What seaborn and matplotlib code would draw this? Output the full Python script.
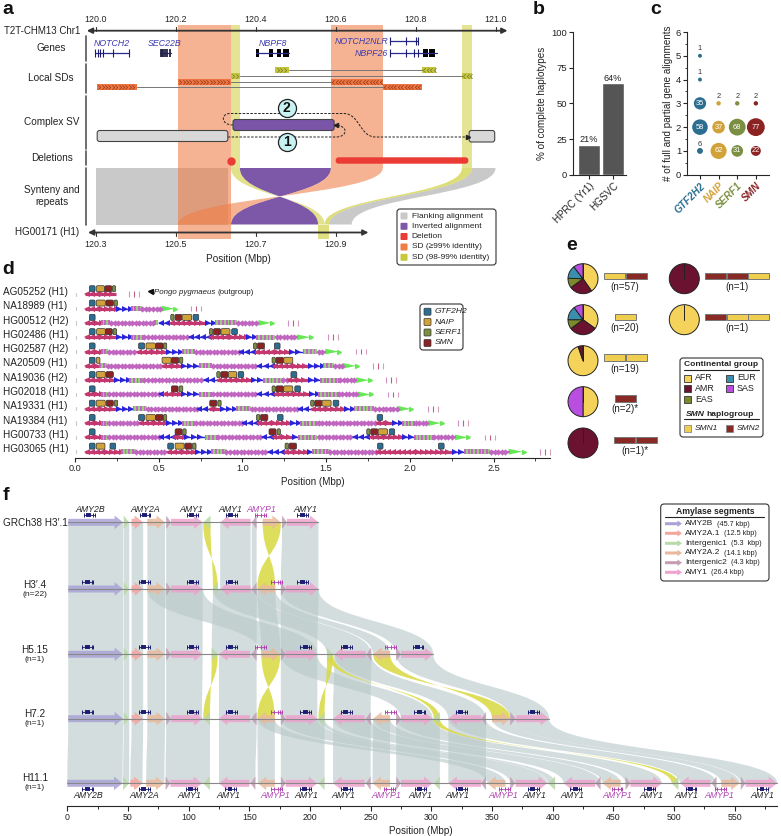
import numpy as np
import pandas as pd
import matplotlib
matplotlib.use("Agg")
import matplotlib.pyplot as plt
import seaborn as sns
from matplotlib.patches import FancyBboxPatch, PathPatch, Rectangle
from matplotlib.path import Path
from matplotlib.ticker import MultipleLocator

# panel a: Mbp values
top_ticks = [120.0, 120.2, 120.4, 120.6, 120.8, 121.0]
bottom_ticks = [120.3, 120.5, 120.7, 120.9]
a_genes = [
    ("NOTCH2", 119.997, 120.082, [119.997, 120.004, 120.01, 120.018, 120.042, 120.082], [], 53),
    ("SEC22B", 120.16, 120.187, [120.162, 120.164, 120.168, 120.173, 120.177, 120.185], [], 53),
    ("NBPF8", 120.40, 120.484, [], [(120.40, 120.407), (120.432, 120.442), (120.454, 120.462), (120.469, 120.484)], 53),
    ("NOTCH2NLR", 120.737, 120.807, [120.737, 120.775, 120.8, 120.807], [], 41),
    ("NBPF26", 120.737, 120.853, [120.737, 120.775, 120.797, 120.807], [(120.818, 120.832), (120.834, 120.849)], 53),
]
a_sd = [
    (120.449, 120.482, 120.816, 120.851, 70, "#c4c43c"),
    (120.338, 120.36, 120.916, 120.941, 76, "#c4c43c"),
    (120.205, 120.338, 120.588, 120.718, 81.5, "#ee7340"),
    (120.002, 120.103, 120.718, 120.815, 87, "#ee7340"),
]
orange_bands = [(120.205, 120.338), (120.588, 120.718)]
yellow_bands = [(120.338, 120.36), (120.916, 120.941)]
flank_left = (120.0, 120.33)
inv_span = (120.36, 120.588)
flank_right = (120.941, 121.0)

# panel b
cohorts = ["HPRC (Yr1)", "HGSVC"]
complete_pct = [21, 64]

# panel c
c_gene = ["GTF2H2"] * 5 + ["NAIP"] * 3 + ["SERF1"] * 3 + ["SMN"] * 3
c_copies = [5, 4, 3, 2, 1, 3, 2, 1, 3, 2, 1, 3, 2, 1]
c_count = [1, 1, 35, 58, 6, 2, 37, 62, 2, 68, 31, 2, 77, 22]
gene_order = ["GTF2H2", "NAIP", "SERF1", "SMN"]
gene_colors = ["#2c6e91", "#d2a23a", "#7b8f42", "#8b2323"]

# panel d
samples = ["AG05252 (H1)", "NA18989 (H1)", "HG00512 (H2)", "HG02486 (H1)", "HG02587 (H2)", "NA20509 (H1)",
           "NA19036 (H2)", "HG02018 (H1)", "NA19331 (H1)", "NA19384 (H1)", "HG00733 (H1)", "HG03065 (H1)"]
tracks = [
    [("C", .243)],
    [("C", .253), ("B", .339), ("S", .398), ("M", .518), ("E", .609)],
    [("C", .16), ("S", .21), ("M", .48), ("S", .5), ("B", .57), ("C", .78), ("B", .84), ("S", .97), ("M", 1.096), ("E", 1.185)],
    [("C", .248), ("B", .339), ("S", .41), ("M", .68), ("B", .805), ("C", 1.03), ("B", 1.09), ("S", 1.2), ("M", 1.325), ("E", 1.42)],
    [("C", .16), ("S", .2), ("M", .37), ("C", .547), ("B", .645), ("S", .72), ("M", .98), ("B", 1.077), ("C", 1.285), ("B", 1.365), ("S", 1.45), ("M", 1.495), ("E", 1.59)],
    [("C", .15), ("S", .19), ("M", .52), ("C", .638), ("B", .747), ("S", .82), ("M", 1.09), ("B", 1.185), ("C", 1.395), ("B", 1.485), ("S", 1.55), ("M", 1.6), ("E", 1.693)],
    [("C", .24), ("B", .33), ("S", .41), ("M", .77), ("B", .85), ("C", 1.06), ("B", 1.13), ("S", 1.24), ("M", 1.27), ("C", 1.395), ("B", 1.47), ("S", 1.58), ("M", 1.68), ("E", 1.77)],
    [("C", .16), ("S", .2), ("M", .5), ("B", .53), ("C", .64), ("B", .747), ("S", .82), ("M", 1.09), ("B", 1.19), ("C", 1.405), ("B", 1.46), ("S", 1.57), ("M", 1.69), ("E", 1.78)],
    [("C", .25), ("B", .35), ("S", .43), ("M", .73), ("B", .8), ("C", .87), ("B", .97), ("S", 1.05), ("M", 1.33), ("B", 1.41), ("C", 1.61), ("B", 1.67), ("S", 1.79), ("M", 1.93), ("E", 2.02)],
    [("C", .16), ("S", .2), ("M", .385), ("C", .547), ("B", .645), ("S", .72), ("M", 1.0), ("B", 1.09), ("C", 1.29), ("B", 1.35), ("S", 1.45), ("M", 1.8), ("C", 1.9), ("B", 1.96), ("S", 2.03), ("M", 2.11), ("E", 2.2)],
    [("C", .16), ("S", .2), ("M", .5), ("B", .59), ("C", .66), ("B", .78), ("S", .85), ("M", 1.12), ("B", 1.18), ("C", 1.3), ("B", 1.34), ("S", 1.45), ("M", 1.66), ("B", 1.76), ("C", 1.96), ("B", 2.03), ("S", 2.14), ("M", 2.27), ("E", 2.36)],
    [("C", .28), ("S", .36), ("M", .55), ("C", .72), ("B", .82), ("S", .9), ("M", 1.15), ("B", 1.25), ("C", 1.39), ("B", 1.42), ("S", 1.52), ("M", 1.8), ("C", 2.26), ("B", 2.33), ("S", 2.48), ("M", 2.59), ("E", 2.69)],
]
outgroup_start = [.325, .695, 1.27, 1.51, 1.68, 1.78, 1.86, 1.87, 2.11, 2.29, 2.45, 2.78]
d_markers = [
    [("G", .086, .12), ("N", .127, .177), ("S", .179, .22), ("F", .223, .243)],
    [("G", .086, .12), ("N", .127, .181), ("S", .185, .229), ("F", .233, .253)],
    [("G", .086, .12), ("F", .572, .592), ("S", .598, .638), ("N", .64, .697), ("G", .705, .739)],
    [("G", .086, .12), ("N", .129, .181), ("S", .181, .223), ("F", .227, .249), ("F", .803, .823), ("S", .827, .87), ("N", .872, .926), ("G", .936, .97)],
    [("G", .086, .12), ("G", .38, .416), ("N", .424, .48), ("S", .482, .526), ("F", .528, .548), ("F", 1.066, 1.086), ("S", 1.09, 1.132), ("G", 1.191, 1.225)],
    [("G", .086, .12), ("N", .127, .149), ("N", .52, .574), ("S", .576, .62), ("F", .624, .644), ("F", 1.177, 1.197), ("S", 1.201, 1.245), ("N", 1.247, 1.301)],
    [("G", .086, .12), ("N", .127, .181), ("S", .185, .229), ("F", .847, .867), ("S", .871, .914), ("N", .916, .966), ("G", .974, 1.008), ("G", 1.29, 1.325)],
    [("G", .086, .12), ("S", .576, .616), ("F", .622, .644), ("F", 1.177, 1.197), ("S", 1.201, 1.245), ("N", 1.247, 1.301), ("G", 1.313, 1.347)],
    [("G", .086, .12), ("N", .127, .181), ("S", .187, .229), ("F", .235, .255), ("S", .805, .847), ("F", .853, .873), ("F", 1.408, 1.428), ("S", 1.432, 1.474), ("N", 1.476, 1.53), ("G", 1.542, 1.576)],
    [("G", .086, .12), ("G", .38, .416), ("N", .424, .48), ("S", .482, .526), ("F", .528, .548), ("F", 1.084, 1.104), ("S", 1.108, 1.152), ("G", 1.209, 1.243), ("G", 1.805, 1.838)],
    [("G", .086, .12), ("S", .598, .64), ("F", .644, .664), ("S", 1.159, 1.201), ("F", 1.207, 1.227), ("F", 1.743, 1.763), ("S", 1.767, 1.809), ("N", 1.811, 1.867), ("G", 1.877, 1.91)],
    [("G", .086, .12), ("N", .127, .179), ("G", .209, .243), ("G", .554, .588), ("N", .598, .652), ("S", .656, .697), ("F", .701, .723), ("F", 1.255, 1.275), ("S", 1.279, 1.323), ("G", 1.807, 1.84), ("G", 2.171, 2.205)],
]

# panel e
pop_names = ["AFR", "AMR", "EAS", "EUR", "SAS"]
pop_colors = ["#f5d35a", "#6b1230", "#7d8a2c", "#3b8fae", "#b84fe0"]
pie_counts = [[23, 14, 6, 8, 6], [7, 6, 2, 3, 2], [18, 1, 0, 0, 0], [1, 0, 0, 0, 1], [0, 1, 0, 0, 0],
              [0, 1, 0, 0, 0], [1, 0, 0, 0, 0]]
pie_labels = ["(n=57)", "(n=20)", "(n=19)", "(n=2)*", "(n=1)*", "(n=1)", "(n=1)"]
haplotypes = [[1, 2], [1], [1, 1], [2], [2, 2], [2, 2, 1], [2, 1, 1]]

# panel f: segment name, start, end, direction
seg_colors = {"AMY2B": "#a9a3d6", "AMY2A.1": "#f4a5a0", "Intergenic1": "#b9d9a6",
              "AMY2A.2": "#eab99c", "Intergenic2": "#c49db5", "AMY1": "#eea2cd"}
seg_sizes = ["(45.7 kbp)", "(12.5 kbp)", "(5.3  kbp)", "(14.1 kbp)", "(4.3 kbp)", "(26.4 kbp)"]
h_first = [("AMY2B", .8, 46, 1), ("Intergenic1", 46.5, 51, 1), ("AMY2A.1", 53, 62.5, 1), ("AMY2A.2", 66, 80.5, 1),
           ("Intergenic2", 81.5, 85.5, 1), ("AMY1", 85.5, 111.5, 1)]
row_h31 = h_first + [("Intergenic1", 112, 118, -1), ("AMY1", 126, 151, -1), ("Intergenic2", 152, 156, -1),
                     ("AMY2A.2", 161, 176, 1), ("Intergenic2", 177, 181, 1), ("AMY1", 181, 207, 1)]
row_h34 = h_first + [("Intergenic1", 120, 124, -1), ("AMY1", 126, 151, -1), ("Intergenic2", 152, 156, -1),
                     ("AMY2A.2", 156.6, 171.4, -1), ("Intergenic2", 176, 180, 1), ("AMY1", 180, 207, 1)]
row_h515 = h_first + [("Intergenic1", 119, 124, 1), ("AMY1", 125, 150.5, -1), ("Intergenic2", 151.5, 156, -1),
                      ("AMY2A.2", 160, 175.5, 1), ("Intergenic2", 176, 180, 1), ("AMY1", 180, 206, 1),
                      ("Intergenic1", 214, 219, 1), ("AMY1", 220, 246, -1), ("Intergenic2", 246.5, 250.5, -1),
                      ("AMY2A.2", 252, 266, -1), ("Intergenic2", 271, 275, 1), ("AMY1", 275, 301.6, 1)]
row_h72 = h_first + [("Intergenic1", 112, 117.6, -1), ("AMY1", 125, 150.5, -1), ("Intergenic2", 151.5, 156, -1),
                     ("AMY2A.2", 156.6, 171, -1), ("Intergenic2", 176, 180, 1), ("AMY1", 180, 206, 1),
                     ("Intergenic1", 207, 212, -1), ("AMY1", 219, 245, -1), ("Intergenic2", 246, 250, -1),
                     ("AMY2A.2", 252, 266, -1), ("Intergenic2", 271, 275, 1), ("AMY1", 275, 301, 1),
                     ("Intergenic1", 301.6, 307, -1), ("AMY1", 314, 341, -1), ("Intergenic2", 341, 345, -1),
                     ("AMY2A.2", 350, 365, 1), ("Intergenic2", 365, 369.5, 1), ("AMY1", 370, 397, 1)]
row_h111 = [("AMY2B", 0, 45.5, 1), ("Intergenic1", 46, 51, 1), ("AMY2A.1", 52, 62, 1), ("AMY2A.2", 65, 80, 1),
            ("Intergenic2", 81, 85, 1), ("AMY1", 85, 111, 1), ("Intergenic1", 112, 117.5, -1), ("AMY1", 125, 150, -1),
            ("Intergenic2", 151, 155, -1), ("AMY2A.2", 157, 171, -1), ("Intergenic2", 176, 180, 1), ("AMY1", 180, 206, 1),
            ("Intergenic1", 207, 212, -1), ("AMY1", 219, 245, -1), ("Intergenic2", 246, 250, -1), ("AMY2A.2", 251.5, 266, -1),
            ("Intergenic2", 271, 275, 1), ("AMY1", 275, 301, 1), ("Intergenic1", 302, 307, -1), ("AMY1", 314, 341, -1),
            ("Intergenic2", 341, 345, -1), ("AMY2A.2", 346, 361, -1), ("Intergenic2", 365, 369, 1), ("AMY1", 369.5, 395.5, 1),
            ("Intergenic1", 396, 402, -1), ("AMY1", 409, 435, -1), ("Intergenic2", 435, 439.5, -1), ("AMY2A.2", 441, 456, -1),
            ("Intergenic2", 460, 464, 1), ("AMY1", 464, 490, 1), ("Intergenic1", 498, 503.6, -1), ("AMY1", 505, 530, -1),
            ("Intergenic2", 531, 535, -1), ("AMY2A.2", 539, 554, 1), ("Intergenic2", 555, 559, 1), ("AMY1", 559, 585, 1)]
f_rows = [row_h31, row_h34, row_h515, row_h72, row_h111]

# alignments between neighbouring haplotypes: top start, top end, bottom start, bottom end, inverted
align_01 = [(.8, 46, .8, 46, 0), (46.5, 51, 46.5, 51, 0), (53, 62.5, 53, 62.5, 0), (66, 80.5, 66, 80.5, 0), (81.5, 111.5, 81.5, 111.5, 0),
            (112, 118, 120, 124, 1), (126, 151, 126, 151, 0), (152, 156, 152, 156, 0), (161, 176, 156.6, 171.4, 1), (177, 207, 176, 207, 0)]
align_12 = [(.8, 46, .8, 46, 0), (46.5, 51, 46.5, 51, 0), (53, 62.5, 53, 62.5, 0), (66, 80.5, 66, 80.5, 0), (81.5, 111.5, 81.5, 111.5, 0),
            (120, 156, 119, 156, 0), (156.6, 171.4, 160, 175.5, 0), (176, 207, 176, 206, 0),
            (66, 112, 160, 206, 0), (120, 156, 214, 250.5, 0), (156.6, 171.4, 252, 266, 0), (176, 207, 271, 301.6, 0)]
align_23 = [(.8, 46, .8, 46, 0), (46.5, 51, 46.5, 51, 0), (53, 62.5, 53, 62.5, 0), (66, 80.5, 66, 80.5, 0), (81.5, 111.5, 81.5, 111, 0),
            (119, 124, 112, 117.6, 1), (125, 156, 125, 156, 0), (160, 175.5, 156.6, 171, 1), (176, 206, 176, 206, 0),
            (214, 219, 207, 212, 1), (220, 250.5, 219, 250, 0),
            (176, 206, 275, 301, 0), (214, 219, 302, 307, 1), (220, 250.5, 314, 345, 0), (252, 266, 350, 365, 1), (271, 301.6, 365, 397, 0)]
align_34 = [(.8, 46, 0, 45.5, 0), (46.5, 51, 46, 51, 0), (53, 62.5, 52, 62, 0), (66, 80.5, 65, 80, 0), (81.5, 117.6, 81, 117.5, 0),
            (125, 156, 125, 155, 0), (156.6, 171, 157, 171, 0), (176, 212, 176, 212, 0), (219, 250, 219, 250, 0), (252, 266, 251.5, 266, 0),
            (271, 307, 271, 307, 0), (314, 345, 314, 345, 0),
            (156.6, 171, 346, 361, 0), (176, 206, 365, 395.5, 0), (207, 212, 396, 402, 0), (219, 250, 409, 439.5, 0), (252, 266, 441, 456, 0),
            (271, 301, 460, 490, 0), (301.6, 307, 498, 503.6, 1), (314, 345, 505, 535, 0), (350, 365, 539, 554, 0), (365, 397, 555, 585, 0)]
f_aligns = [align_01, align_12, align_23, align_34]

f_row_names = [("GRCh38 H3′.1", ""), ("H3′.4", "(n=22)"), ("H5.15", "(n=1)"), ("H7.2", "(n=1)"), ("H11.1", "(n=1)")]
genes_row0 = [("AMY2B", 18), ("AMY2A", 64), ("AMY1", 103), ("AMY1", 135), ("AMYP1", 159), ("AMY1", 194)]
genes_row1 = [("AMY2B", 17), ("AMY2A", 63.5), ("AMY1", 103), ("AMY1", 135), ("AMYP1", 172.5), ("AMY1", 194)]
genes_row2 = [("AMY2B", 17), ("AMY2A", 63.5), ("AMY1", 103), ("AMY1", 135), ("AMYP1", 159), ("AMY1", 196.5), ("AMY1", 230), ("AMYP1", 266), ("AMY1", 289)]
genes_row3 = [("AMY2B", 17), ("AMY2A", 63.5), ("AMY1", 103), ("AMY1", 135), ("AMYP1", 172.5), ("AMY1", 196.5), ("AMY1", 230), ("AMYP1", 266), ("AMY1", 290.6), ("AMY1", 324.5), ("AMY1", 384)]
genes_row4 = [("AMY2B", 17), ("AMY2A", 63.5), ("AMY1", 102), ("AMY1", 134.6), ("AMYP1", 172.5), ("AMY1", 196), ("AMY1", 229.7), ("AMYP1", 265.4),
              ("AMY1", 290.7), ("AMY1", 324.5), ("AMYP1", 360), ("AMY1", 384), ("AMY1", 419), ("AMYP1", 453), ("AMY1", 480), ("AMY1", 514), ("AMYP1", 538), ("AMY1", 573)]
f_genes = [genes_row0, genes_row1, genes_row2, genes_row3, genes_row4]
labels_top = [("AMY2B", 18.7), ("AMY2A", 64.6), ("AMY1", 102), ("AMY1", 134.6), ("AMYP1", 159.6), ("AMY1", 196.4)]
labels_bottom = [("AMY2B", 17.3), ("AMY2A", 63.5), ("AMY1", 100.5), ("AMY1", 132.7), ("AMYP1", 171.4), ("AMY1", 196.7), ("AMY1", 227.5),
                 ("AMYP1", 263), ("AMY1", 290.7), ("AMY1", 321.4), ("AMYP1", 359), ("AMY1", 385), ("AMY1", 416.5), ("AMYP1", 453),
                 ("AMY1", 481), ("AMY1", 510.5), ("AMYP1", 537), ("AMY1", 573)]

W, H = 781, 836
sns.set_theme(style="ticks")
plt.rcParams["font.family"] = ["Liberation Sans", "DejaVu Sans"]
plt.rcParams["axes.linewidth"] = 0.8
DARK = "#222222"
FS = 7.1
fig = plt.figure(figsize=(W / 100, H / 100), dpi=100, facecolor="white")


def box_px(x0, y0, x1, y1):
    return fig.add_axes([x0 / W, 1 - y1 / H, (x1 - x0) / W, (y1 - y0) / H])


def ribbon(ax, x0, x1, x2, x3, y0, y1, inverted=False, **kw):
    # x0,x1 on the top row and x2,x3 on the bottom row
    ym = (y0 + y1) / 2
    if inverted:
        x2, x3 = x3, x2
    verts = [(x0, y0), (x0, ym), (x2, ym), (x2, y1), (x3, y1), (x3, ym), (x1, ym), (x1, y0), (x0, y0)]
    codes = [Path.MOVETO, Path.CURVE4, Path.CURVE4, Path.CURVE4, Path.LINETO, Path.CURVE4, Path.CURVE4, Path.CURVE4, Path.CLOSEPOLY]
    ax.add_patch(PathPatch(Path(verts, codes), lw=0, **kw))


chev_r = Path([(-.5, 1), (.5, 0), (-.5, -1)], [Path.MOVETO, Path.LINETO, Path.LINETO])
chev_l = Path([(.5, 1), (-.5, 0), (.5, -1)], [Path.MOVETO, Path.LINETO, Path.LINETO])

# ---- panel a ----
ax_a = box_px(0, 0, 520, 270)
SCALE_A = 399.5
ax_a.set_xlim(120 - 96 / SCALE_A, 120 + 424 / SCALE_A)
ax_a.set_ylim(270, 0)
ax_a.axis("off")
SHIFT = 0.3  # HG00171 coordinates start 0.3 Mbp after CHM13 on the page

ax_a.fill_between([flank_left[0], flank_left[1]], 168, 224.5, color="#c9c9c9", lw=0)
ribbon(ax_a, flank_right[0], flank_right[1], 120.583, 120.64, 168, 224.5, color="#c9c9c9")
ribbon(ax_a, inv_span[0], inv_span[1], 120.338, 120.556, 168, 224.5, inverted=True, color="#7d58a8")
for lo, hi in orange_bands:
    ax_a.fill_between([lo, hi], 25, 168, color="#ef7d45", alpha=.58, lw=0)
ax_a.fill_between(orange_bands[0], 168, 239, color="#ef7d45", alpha=.58, lw=0)
ribbon(ax_a, orange_bands[1][0], orange_bands[1][1], orange_bands[0][0], orange_bands[0][1], 168, 224.5, inverted=True, color="#ef7d45", alpha=.58)
for lo, hi in yellow_bands:
    ax_a.fill_between([lo, hi], 25, 168, color="#cfcf3c", alpha=.55, lw=0)
ribbon(ax_a, yellow_bands[0][0], yellow_bands[0][1], 120.556, 120.572, 168, 224.5, inverted=True, color="#cfcf3c", alpha=.6)
ribbon(ax_a, yellow_bands[1][0], yellow_bands[1][1], 120.572, 120.583, 168, 224.5, color="#cfcf3c", alpha=.7)
ax_a.fill_between([120.556, 120.583], 224.5, 239, color="#cfcf3c", alpha=.65, lw=0)

ax_a.annotate("", (121.03, 30.7), (119.977, 30.7), arrowprops=dict(arrowstyle="<|-|>", color="#333333", lw=1.3, mutation_scale=8, shrinkA=0, shrinkB=0))
ax_a.annotate("", (120.682, 232.5), (119.98, 232.5), arrowprops=dict(arrowstyle="<|-|>", color="#333333", lw=1.3, mutation_scale=8, shrinkA=0, shrinkB=0))
for t in top_ticks:
    ax_a.plot([t, t], [27, 31], color="#333333", lw=.8)
    ax_a.text(t, 20, f"{t:.1f}", ha="center", va="center", fontsize=6.4, color=DARK)
for t in bottom_ticks:
    ax_a.plot([t - SHIFT, t - SHIFT], [232, 236], color="#333333", lw=.8)
    ax_a.text(t - SHIFT, 244, f"{t:.1f}", ha="center", va="center", fontsize=6.4, color=DARK)

for name, lo, hi, exons, blocks, y in a_genes:
    ax_a.plot([lo, hi], [y, y], color="#28288f", lw=.9)
    ax_a.vlines(exons, y - 4, y + 4, color="#1b1b70" if name != "SEC22B" else "#222244", lw=.8 if name != "SEC22B" else 1.3)
    for b0, b1 in blocks:
        ax_a.fill_between([b0, b1], y - 4, y + 4, color="black", lw=0)
a_gene_text = [("NOTCH2", 120.04, 43.5, "center"), ("SEC22B", 120.172, 43.5, "center"), ("NBPF8", 120.443, 43.5, "center"),
               ("NOTCH2NLR", 120.732, 42, "right"), ("NBPF26", 120.732, 54, "right")]
for name, x, y, ha in a_gene_text:
    ax_a.text(x, y, name, style="italic", fontsize=6.3, color="#3b3bb0", ha=ha, va="center")

for a0, a1, b0, b1, y, col in a_sd:
    ax_a.plot([a1, b0], [y, y], color="#777777", lw=.7)
    for lo, hi, mk in [(a0, a1, chev_r), (b0, b1, chev_l)]:
        ax_a.fill_between([lo, hi], y - 3, y + 3, color=col, lw=0)
        xs = np.arange(lo + .006, hi - .002, .0085)
        ax_a.plot(xs, [y] * len(xs), ls="", marker=mk, ms=3.2, mfc="none", mec="#8a3a18" if col == "#ee7340" else "#77772a", mew=.5)

for lo, hi, y0, y1, col in [(120.003, 120.33, 130.5, 141.5, "#d8d8d8"), (120.343, 120.596, 119.5, 130.5, "#7a55a8"), (120.934, 120.998, 130.5, 142, "#d8d8d8")]:
    ax_a.add_patch(FancyBboxPatch((lo, y0), hi - lo, y1 - y0, boxstyle="round,pad=0,rounding_size=0.006",
                                  mutation_aspect=SCALE_A, fc=col, ec="#444444", lw=.8, zorder=4))
dash = dict(color="#222222", lw=.7, ls=(0, (2.5, 1.5)), zorder=3)
p1 = Path([(120.33, 137), (120.6, 137), (120.632, 137), (120.632, 125), (120.597, 125)],
          [Path.MOVETO, Path.LINETO, Path.CURVE4, Path.CURVE4, Path.CURVE4])
ax_a.add_patch(PathPatch(p1, fc="none", **dash))
p2 = Path([(120.343, 125), (120.312, 125), (120.312, 113.5), (120.335, 113.5), (120.62, 113.5), (120.66, 113.5), (120.66, 137), (120.70, 137), (120.932, 137)],
          [Path.MOVETO, Path.CURVE4, Path.CURVE4, Path.CURVE4, Path.LINETO, Path.CURVE4, Path.CURVE4, Path.CURVE4, Path.LINETO])
ax_a.add_patch(PathPatch(p2, fc="none", **dash))
ax_a.plot([120.6], [125], marker="<", ms=3, color="#222222", zorder=5)
ax_a.plot([120.93], [137], marker=">", ms=3, color="#222222", zorder=5)
for y, lab in [(108, "2"), (142, "1")]:
    ax_a.plot([120.477], [y], marker="o", ms=13, mfc="#c8f2f2", mec="#222222", mew=.9, zorder=6)
    ax_a.text(120.477, y + .3, lab, ha="center", va="center", fontsize=10, fontweight="bold", color="#111111", zorder=7)
ax_a.plot([120.338], [160.5], marker="o", ms=5, color="#ea3b35", zorder=5)
ax_a.add_patch(FancyBboxPatch((120.6, 157.3), 0.332, 6.4, boxstyle="round,pad=0,rounding_size=0.007", mutation_aspect=SCALE_A, fc="#ea3b35", ec="none", zorder=5))

# ---- panel b ----
ax_b = box_px(573, 32, 626, 174.7)
sns.barplot(x=cohorts, y=complete_pct, color="#555555", width=.9, saturation=1, ax=ax_b)
ax_b.set_xlim(-.667, 1.54)
ax_b.set_ylim(0, 100)
ax_b.set_yticks([0, 25, 50, 75, 100])
ax_b.set_ylabel("% of complete haplotypes", fontsize=FS, labelpad=3, color=DARK)
ax_b.tick_params(axis="y", labelsize=6.8, length=3, width=.8, pad=1.5, labelcolor=DARK)
ax_b.tick_params(axis="x", length=3, width=.8, pad=1.5)
ax_b.set_xticks([0, 1])
ax_b.set_xticklabels(cohorts, rotation=45, ha="right", rotation_mode="anchor", fontsize=FS, color=DARK)
for i, v in enumerate(complete_pct):
    ax_b.text(i, v + .5, f"{v}%", ha="center", va="bottom", fontsize=6.6, color=DARK)
sns.despine(ax=ax_b)

# ---- panel c ----
ax_c = box_px(687.3, 32, 768.7, 174.7)
df_c = pd.DataFrame({"gene": c_gene, "copies": c_copies, "n": c_count})
sns.scatterplot(data=df_c, x="gene", y="copies", size="n", sizes=(8, 165), hue="gene", hue_order=gene_order,
                palette=gene_colors, legend=False, linewidth=0, ax=ax_c)
ax_c.set_xlim(-.68, 3.69)
ax_c.set_ylim(0, 6)
ax_c.set_yticks(range(7))
ax_c.yaxis.set_minor_locator(MultipleLocator(.5))
ax_c.set_xlabel("")
ax_c.set_ylabel("# of full and partial gene alignments", fontsize=FS, labelpad=2, color=DARK)
ax_c.tick_params(axis="y", which="major", labelsize=6.8, length=3, width=.8, pad=1.5, labelcolor=DARK)
ax_c.tick_params(axis="y", which="minor", length=1.8, width=.6)
ax_c.tick_params(axis="x", length=3, width=.8, pad=1.5)
ax_c.set_xticks(range(4))
ax_c.set_xticklabels(gene_order, rotation=45, ha="right", rotation_mode="anchor", fontsize=7.2, fontweight="bold", style="italic")
for lab, col in zip(ax_c.get_xticklabels(), gene_colors):
    lab.set_color(col)
for g, y, n in zip(c_gene, c_copies, c_count):
    i = gene_order.index(g)
    if n > 10:
        ax_c.text(i, y, n, ha="center", va="center", fontsize=5.4, color="white")
    else:
        ax_c.text(i, y + .14, n, ha="center", va="bottom", fontsize=5.4, color="#333333")
sns.despine(ax=ax_c)

# ---- panel d ----
ax_d = box_px(70, 285, 555, 458)
ax_d.set_xlim(-5 / 167.4, 480 / 167.4)
ax_d.set_ylim(11.44, -.65)
TRACK_COL = {"C": "#c4386f", "B": "#2a24d8", "M": "#c065c0", "S": "#c065c0", "E": "#66e855"}
MARK_COL = {"G": gene_colors[0], "N": gene_colors[1], "F": gene_colors[2], "S": gene_colors[3]}
for row, (track, marks) in enumerate(zip(tracks, d_markers)):
    start = .06
    for j, (kind, end) in enumerate(track):
        nxt = track[j + 1][0] if j + 1 < len(track) else ""
        if kind == "E":
            ax_d.fill([start, end - .015, start], [row - .2, row, row + .2], color=TRACK_COL["E"], lw=0)
            ax_d.plot([end - .01], [row], marker=">", ms=2.8, color=TRACK_COL["E"])
        elif kind == "C":
            mid = (start + end) / 2
            ax_d.plot([start, end], [row, row], color=TRACK_COL["C"], lw=2.3, solid_capstyle="butt")
            xs = np.arange(start + .01, end, .03)
            ax_d.plot(xs[xs < mid], [row] * (xs < mid).sum(), ls="", marker="<", ms=4.4, mew=0, color=TRACK_COL["C"])
            ax_d.plot(xs[xs >= mid], [row] * (xs >= mid).sum(), ls="", marker=">", ms=4.4, mew=0, color=TRACK_COL["C"])
        elif kind == "B":
            xs = np.arange(start + .012, end, .036)
            ax_d.plot([start, end], [row, row], color=TRACK_COL["B"], lw=1.0)
            ax_d.plot(xs, [row] * len(xs), ls="", marker="<" if nxt == "C" else ">", ms=4.6, mew=0, color=TRACK_COL["B"])
        elif kind == "M":
            xs = np.arange(start + .005, end, .021)
            ax_d.plot(xs, [row] * len(xs), ls="", marker="D", ms=3.2, mew=0, color=TRACK_COL["M"])
            ax_d.plot([start, end], [row, row], color=TRACK_COL["M"], lw=1.6)
        else:
            xs = np.arange(start, end, .011)
            cols = ["#9acb80" if k % 2 else "#c065c0" for k in range(len(xs))]
            ax_d.vlines(xs, row - .18, row + .18, colors=cols, lw=1.4)
        start = end
    ax_d.plot([.005, .005], [row - .12, row + .12], color="#c8c8c8", lw=.8)
    ot = outgroup_start[row]
    ax_d.vlines([ot, ot + .03, ot + .06], row - .2, row + .2, colors=["#d090c8", "#c06080", "#d8a0b8"], lw=.8)
    for g, lo, hi in marks:
        ax_d.add_patch(FancyBboxPatch((lo, row - .6), hi - lo, .42, boxstyle="round,pad=0,rounding_size=0.008",
                                      mutation_aspect=167.4 / 14.3, fc=MARK_COL[g], ec="#333333", lw=.5, zorder=5))
ax_d.set_yticks([])
ax_d.set_xticks(np.arange(0, 3, .5))
ax_d.xaxis.set_minor_locator(MultipleLocator(.25))
ax_d.set_xticklabels([f"{t:.1f}" for t in np.arange(0, 3, .5)], fontsize=6.6, color=DARK)
ax_d.tick_params(axis="x", which="major", length=3, width=.8, pad=1.5)
ax_d.tick_params(axis="x", which="minor", length=2, width=.6)
ax_d.set_xlabel("Position (Mbp)", fontsize=FS, labelpad=3, color=DARK)
sns.despine(ax=ax_d, left=True)
ax_d.spines["bottom"].set_bounds(0, 2.84)

# ---- panel e ----
ax_e = box_px(570, 250, 781, 480)
pie_xy = [(583, 278.7), (583, 319.7), (583, 360.7), (583, 401.7), (583, 443), (684.3, 278.7), (684.3, 319.7)]
for vals, (cx, cy) in zip(pie_counts, pie_xy):
    keep = [(v, c) for v, c in zip(vals, pop_colors) if v > 0]
    ax_e.pie([k[0] for k in keep], colors=[k[1] for k in keep], center=(cx, cy), radius=15, startangle=270, counterclock=True,
             wedgeprops=dict(edgecolor="#222222", linewidth=.7))
    ax_e.plot([cx, cx], [cy, cy - 15], color="#222222", lw=.7)
ax_e.set_xlim(570, 781)
ax_e.set_ylim(480, 250)
ax_e.axis("off")
bar_xy = [(604, 276), (615, 317), (604, 357.5), (615, 398.5), (614, 440), (705, 276), (705, 317)]
for hap, (bx, by) in zip(haplotypes, bar_xy):
    for k, h in enumerate(hap):
        ax_e.barh(by, 21, left=bx + k * 21.6, height=6.8, color="#f0cf50" if h == 1 else "#8a2a25", edgecolor="#777777", linewidth=.7)
text_xy = [(625, 286.5), (625, 327.7), (625, 368.5), (625, 409.5), (635, 450.5), (737, 286.5), (737, 327.7)]
for lab, (tx_, ty_) in zip(pie_labels, text_xy):
    ax_e.text(tx_, ty_, lab, ha="center", va="center", fontsize=FS, color=DARK)

# ---- text, legends, scale on top of everything ----
cv = fig.add_axes([0, 0, 1, 1], zorder=20)
cv.set_xlim(0, W)
cv.set_ylim(H, 0)
cv.axis("off")
cv.patch.set_alpha(0)
for s, x, y in [("a", 8, 10), ("b", 539, 10), ("c", 656, 10), ("d", 8, 270), ("e", 572, 245), ("f", 6, 496)]:
    cv.text(x, y, s, fontsize=14, fontweight="bold", ha="center", va="center", color="#111111")
cv.text(4, 30.5, "T2T-CHM13 Chr1", fontsize=7, va="center", color=DARK)
for s, x, y in [("Genes", 51, 48), ("Local SDs", 51, 78), ("Complex SV", 52, 122), ("Deletions", 52.5, 158),
                ("Synteny and\nrepeats", 52, 196)]:
    cv.text(x, y, s, fontsize=7.2, ha="center", va="center", color=DARK, linespacing=1.35)
for y0, y1 in [(36, 61), (64, 93), (96, 149), (151, 165), (168, 225)]:
    cv.plot([86, 86], [y0, y1], color="#555555", lw=1.2)
cv.text(15, 232, "HG00171 (H1)", fontsize=7.1, va="center", color=DARK)
cv.text(238, 258.5, "Position (Mbp)", fontsize=7.2, ha="center", va="center", color=DARK)
cv.add_patch(FancyBboxPatch((397, 209), 99, 56, boxstyle="round,pad=0,rounding_size=3", fc="white", ec="#333333", lw=.8))
a_leg = [("Flanking alignment", "#c9c9c9", 216), ("Inverted alignment", "#7d58a8", 226.3), ("Deletion", "#ea3b35", 236.5),
         ("SD (≥99% identity)", "#ef7d45", 247), ("SD (98-99% identity)", "#c8c83c", 257.3)]
for lab, col, y in a_leg:
    cv.add_patch(FancyBboxPatch((400.5, y - 3.5), 7, 7, boxstyle="round,pad=0,rounding_size=1", fc=col, ec="none"))
    cv.text(411.5, y, lab, fontsize=6.0, va="center", color=DARK)

for s, y in zip(samples, range(12)):
    cv.text(3, 292 + 14.3 * y, s, fontsize=7.2, va="center", color=DARK)
cv.plot([149.5], [291], marker="<", ms=3.6, color="#111111")
cv.text(154, 292, "Pongo pygmaeus", style="italic", fontsize=5.7, va="center", color=DARK)
cv.text(217, 292, "(outgroup)", fontsize=5.7, va="center", color=DARK)
cv.add_patch(FancyBboxPatch((420, 304), 43, 46, boxstyle="round,pad=0,rounding_size=3", fc="white", ec="#333333", lw=.8))
for g, col, y in zip(gene_order, gene_colors, [311.7, 322, 332.5, 343]):
    cv.add_patch(FancyBboxPatch((424, y - 3.5), 7, 7, boxstyle="round,pad=0,rounding_size=1", fc=col, ec="#333333", lw=.5))
    cv.text(435, y, g, style="italic", fontsize=6.1, va="center", color=DARK)

cv.add_patch(FancyBboxPatch((680, 358), 83, 79, boxstyle="round,pad=0,rounding_size=3", fc="white", ec="#333333", lw=.8))
cv.text(721.5, 365, "Continental group", fontsize=6.1, fontweight="bold", ha="center", va="center", color=DARK)
cv.plot([684, 759], [370, 370], color="#222222", lw=.8)
for name, col, x, y in zip(pop_names, pop_colors, [684, 684, 684, 726, 726], [378, 388.5, 399, 378, 388.5]):
    cv.add_patch(Rectangle((x, y - 3.5), 7, 7, fc=col, ec="#333333", lw=.6))
    cv.text(x + 11, y, name, fontsize=6.4, va="center", color=DARK)
cv.text(686, 414.5, "SMN", style="italic", fontweight="bold", fontsize=6.1, va="center", color=DARK)
cv.text(706, 414.5, "haplogroup", fontweight="bold", fontsize=6.1, va="center", color=DARK)
cv.plot([684, 759], [419, 419], color="#222222", lw=.8)
for name, col, x in [("SMN1", "#f0cf50", 684), ("SMN2", "#8a2a25", 726)]:
    cv.add_patch(Rectangle((x, 424.5), 7, 7, fc=col, ec="#888888", lw=.6))
    cv.text(x + 11, 428, name, style="italic", fontsize=6, va="center", color=DARK)

# ---- panel f ----
ax_f = box_px(60, 495, 781, 805.7)
SCALE_F = 1.2135
ax_f.set_xlim(-7.3 / SCALE_F, 713.7 / SCALE_F)
ax_f.set_ylim(805.7, 495)
row_y = [522.3, 589, 654.3, 718.7, 783.3]
for i, al in enumerate(f_aligns):
    for a0, a1, b0, b1, inv in al:
        if inv:
            ribbon(ax_f, a0, a1, b0, b1, row_y[i], row_y[i + 1], inverted=True, color="#d9d940", alpha=.85, zorder=2)
        else:
            ribbon(ax_f, a0, a1, b0, b1, row_y[i], row_y[i + 1], color="#b8c9c9", alpha=.62, zorder=1)
for y, row in zip(row_y, f_rows):
    for name, lo, hi, d in row:
        x0, x1 = (lo, hi) if d > 0 else (hi, lo)
        head = min(7, hi - lo)
        ax_f.arrow(x0, y, x1 - x0, 0, width=7, head_width=13.5, head_length=head, length_includes_head=True,
                   fc=seg_colors[name], ec="none", alpha=.85, zorder=4)
    ax_f.plot([row[0][1], row[-1][2]], [y, y], color="#888888", lw=.8, zorder=5)
for i, (y, genes) in enumerate(zip(row_y, f_genes)):
    gy = y + 6 if i == 4 else y - 7
    for name, c in genes:
        col = "#b044b0" if name == "AMYP1" else "#1c1c70"
        ax_f.plot([c - 4.5, c + 4.5], [gy, gy], color=col, lw=.6, zorder=6)
        ax_f.vlines([c - 4.5, c + 3, c + 4.5], gy - 2, gy + 2, color=col, lw=.7, zorder=6)
        if name != "AMYP1":
            ax_f.plot([c - 2.5, c + 1.5], [gy, gy], color=col, lw=2.8, solid_capstyle="butt", zorder=6)
        else:
            ax_f.vlines([c - 2.5, c + 1], gy - 2, gy + 2, color=col, lw=.7, zorder=6)
for labels, y in [(labels_top, 509), (labels_bottom, 796)]:
    for name, c in labels:
        ax_f.text(c, y, name, style="italic", fontsize=6.3, ha="center", va="center",
                  color="#b044b0" if name == "AMYP1" else "#222222", zorder=7)
ax_f.set_yticks([])
ax_f.set_xticks(range(0, 551, 50))
ax_f.xaxis.set_minor_locator(MultipleLocator(25))
ax_f.tick_params(axis="x", which="major", labelsize=6.3, length=3.5, width=.8, pad=1.5, labelcolor=DARK)
ax_f.tick_params(axis="x", which="minor", length=2.5, width=.7)
ax_f.set_xlabel("Position (Mbp)", fontsize=FS, labelpad=3, color=DARK)
sns.despine(ax=ax_f, left=True)
ax_f.spines["bottom"].set_bounds(0, 584.6)
ax_f.patch.set_alpha(0)

label_y = [523, 585, 650, 714, 778]
for (n, sub), y in zip(f_row_names, label_y):
    if not sub:
        cv.text(3, y, n, fontsize=7.2, va="center", color=DARK)
    else:
        cv.text(35, y, n, fontsize=7.2, ha="center", va="center", color=DARK)
        cv.text(35, y + 9.5, sub, fontsize=6.1, ha="center", va="center", color=DARK)
cv.add_patch(FancyBboxPatch((660.7, 504), 108.3, 77, boxstyle="round,pad=0,rounding_size=3.5", fc="white", ec="#333333", lw=.8))
cv.text(715, 511, "Amylase segments", fontsize=6.2, fontweight="bold", ha="center", va="center", color=DARK)
cv.plot([665, 764], [516.5, 516.5], color="#222222", lw=.8)
for (name, col), size, y, sx in zip(seg_colors.items(), seg_sizes, [523.7, 533.3, 543.3, 553, 562.7, 572.3],
                                    [716.7, 724, 730.7, 724, 730.7, 711]):
    cv.arrow(665, y, 17, 0, width=3, head_width=6.5, head_length=4.5, length_includes_head=True, fc=col, ec="none")
    cv.text(685, y, name, fontsize=6.05, va="center", color=DARK)
    cv.text(sx, y + .3, size, fontsize=5.2, va="center", color=DARK)

fig.savefig("out.png", dpi=100)
